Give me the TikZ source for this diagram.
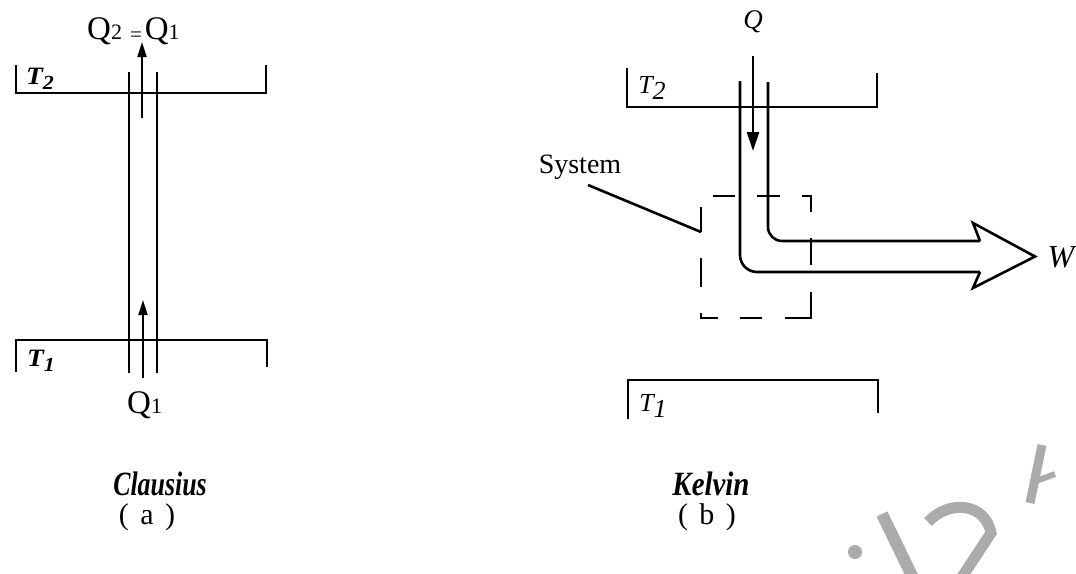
\documentclass[tikz,border=0pt]{standalone}
\usepackage{fontspec}
\newfontfamily\tnr{Liberation Serif}
\usetikzlibrary{arrows.meta}
\begin{document}
\begin{tikzpicture}[x=1pt,y=-1pt,
  thinln/.style={line width=1.8pt},
  thickln/.style={line width=2.6pt},
  arra/.style={line width=1.8pt,-{Triangle[length=15pt,width=9pt]}},
  arrb/.style={line width=2.6pt,-{Triangle[length=19pt,width=12pt]}},
  lbl/.style={inner sep=0pt, anchor=center},
  qlbl/.style={inner sep=0pt, anchor=base west, font=\tnr\fontsize{33}{33}\selectfont},
  dashseg/.style={line width=2.6pt},
  wm/.style={draw=black!33, line cap=butt},
  wmfill/.style={fill=black!33}]
\useasboundingbox (0,0) rectangle (1076,573);

% ---------- watermark fragments ----------
\begin{scope}
\clip (0,0) rectangle (1076,573);
\fill[wmfill] (855,552) circle (7);
\draw[wm, line width=12pt] (882,514) -- (914,580);
\draw[wm, line width=11pt] (928,522) .. controls (948,500) and (985,502) .. (991,533) -- (960,580);
\draw[wm, line width=9pt] (1030,503) -- (1042,445);
\draw[wm, line width=6pt] (1036,481) -- (1055,474);
\end{scope}

% ---------- (a) Clausius ----------
\draw[thinln] (16,65) -- (16,93) -- (266,93) -- (266,65);
\draw[thinln] (16,372) -- (16,340) -- (267,340) -- (267,367);
\node[lbl] (t2a) at (40,79) {\scalebox{1.1}[1]{\tnr\bfseries\itshape\fontsize{25}{25}\selectfont T\raisebox{-5pt}{\fontsize{20}{20}\selectfont 2}}};
\node[lbl] (t1a) at (41,361) {\scalebox{1.1}[1]{\tnr\bfseries\itshape\fontsize{25}{25}\selectfont T\raisebox{-5pt}{\fontsize{20}{20}\selectfont 1}}};
\coordinate (pl1) at (129,72);  \coordinate (pl2) at (129,373);
\coordinate (pr1) at (157,72);  \coordinate (pr2) at (157,373);
\draw[thinln] (pl1) -- (pl2);
\draw[thinln] (pr1) -- (pr2);
\node[qlbl] (q21) at (87,39) {Q{\fontsize{22}{22}\selectfont 2}\hspace{8pt}\raisebox{-2pt}{\fontsize{21}{21}\selectfont =}\hspace{3pt}Q{\fontsize{22}{22}\selectfont 1}};
\node[qlbl] (q1a) at (127,413) {Q{\fontsize{22}{22}\selectfont 1}};
\coordinate (at1) at (142,118); \coordinate (at2) at (142,42);
\coordinate (ab1) at (143,378); \coordinate (ab2) at (143,300);
\draw[arra] (at1) -- (at2);
\draw[arra] (ab1) -- (ab2);
\node[lbl] (capa) at (160,484) {\scalebox{0.76}[1]{\tnr\bfseries\itshape\fontsize{34}{34}\selectfont Clausius}};
\node[lbl] (laba) at (147,517) {\tnr\fontsize{30}{30}\selectfont (\hspace{4pt} a \hspace{4pt})};

% ---------- (b) Kelvin ----------
\draw[thickln] (627,68) -- (627,107) -- (877,107) -- (877,73);
\draw[thickln] (628,419) -- (628,380) -- (878,380) -- (878,413);
\node[lbl] (t2b) at (652,88) {\tnr\itshape\fontsize{26}{26}\selectfont T\raisebox{-6pt}{2}};
\node[lbl] (t1b) at (653,406) {\tnr\itshape\fontsize{26}{26}\selectfont T\raisebox{-6pt}{1}};
\node[lbl] (qb) at (753,22) {\tnr\itshape\fontsize{27}{27}\selectfont Q};
\coordinate (qa1) at (753,56); \coordinate (qa2) at (753,151);
\draw[arrb] (qa1) -- (qa2);
% pipes
\draw[thickln, rounded corners=17pt] (740,81) -- (740,272) -- (980,272);
\draw[thickln, rounded corners=14pt] (768,82) -- (768,241) -- (980,241);
\draw[thickln, line join=miter] (980,272) -- (973,288) -- (1035,256.5) -- (973,223) -- (980,241);
\node[lbl] (wb) at (1061,257) {\tnr\itshape\fontsize{32}{32}\selectfont W};
% dashed system box
\draw[dashseg] (713,196) -- (735,196);
\draw[dashseg] (757,196) -- (780,196);
\draw[dashseg] (802,196) -- (811,196) -- (811,212);
\draw[dashseg] (811,238) -- (811,265);
\draw[dashseg] (811,292) -- (811,318) -- (785,318);
\draw[dashseg] (740,318) -- (762,318);
\draw[dashseg] (718,318) -- (701,318) -- (701,313);
\draw[dashseg] (701,258) -- (701,287);
\draw[dashseg] (701,207) -- (701,232);
\coordinate (boxpt) at (701,232);
\node[lbl] (sys) at (580,167) {\tnr\fontsize{28}{28}\selectfont System};
\coordinate (sysl) at (588,185);
\draw[thickln] (sysl) -- (boxpt);
\node[lbl] (capb) at (711,484) {\scalebox{0.85}[1]{\tnr\bfseries\itshape\fontsize{34}{34}\selectfont Kelvin}};
\node[lbl] (labb) at (707,517) {\tnr\fontsize{30}{30}\selectfont (\hspace{4pt} b \hspace{4pt})};
\end{tikzpicture}
\end{document}
